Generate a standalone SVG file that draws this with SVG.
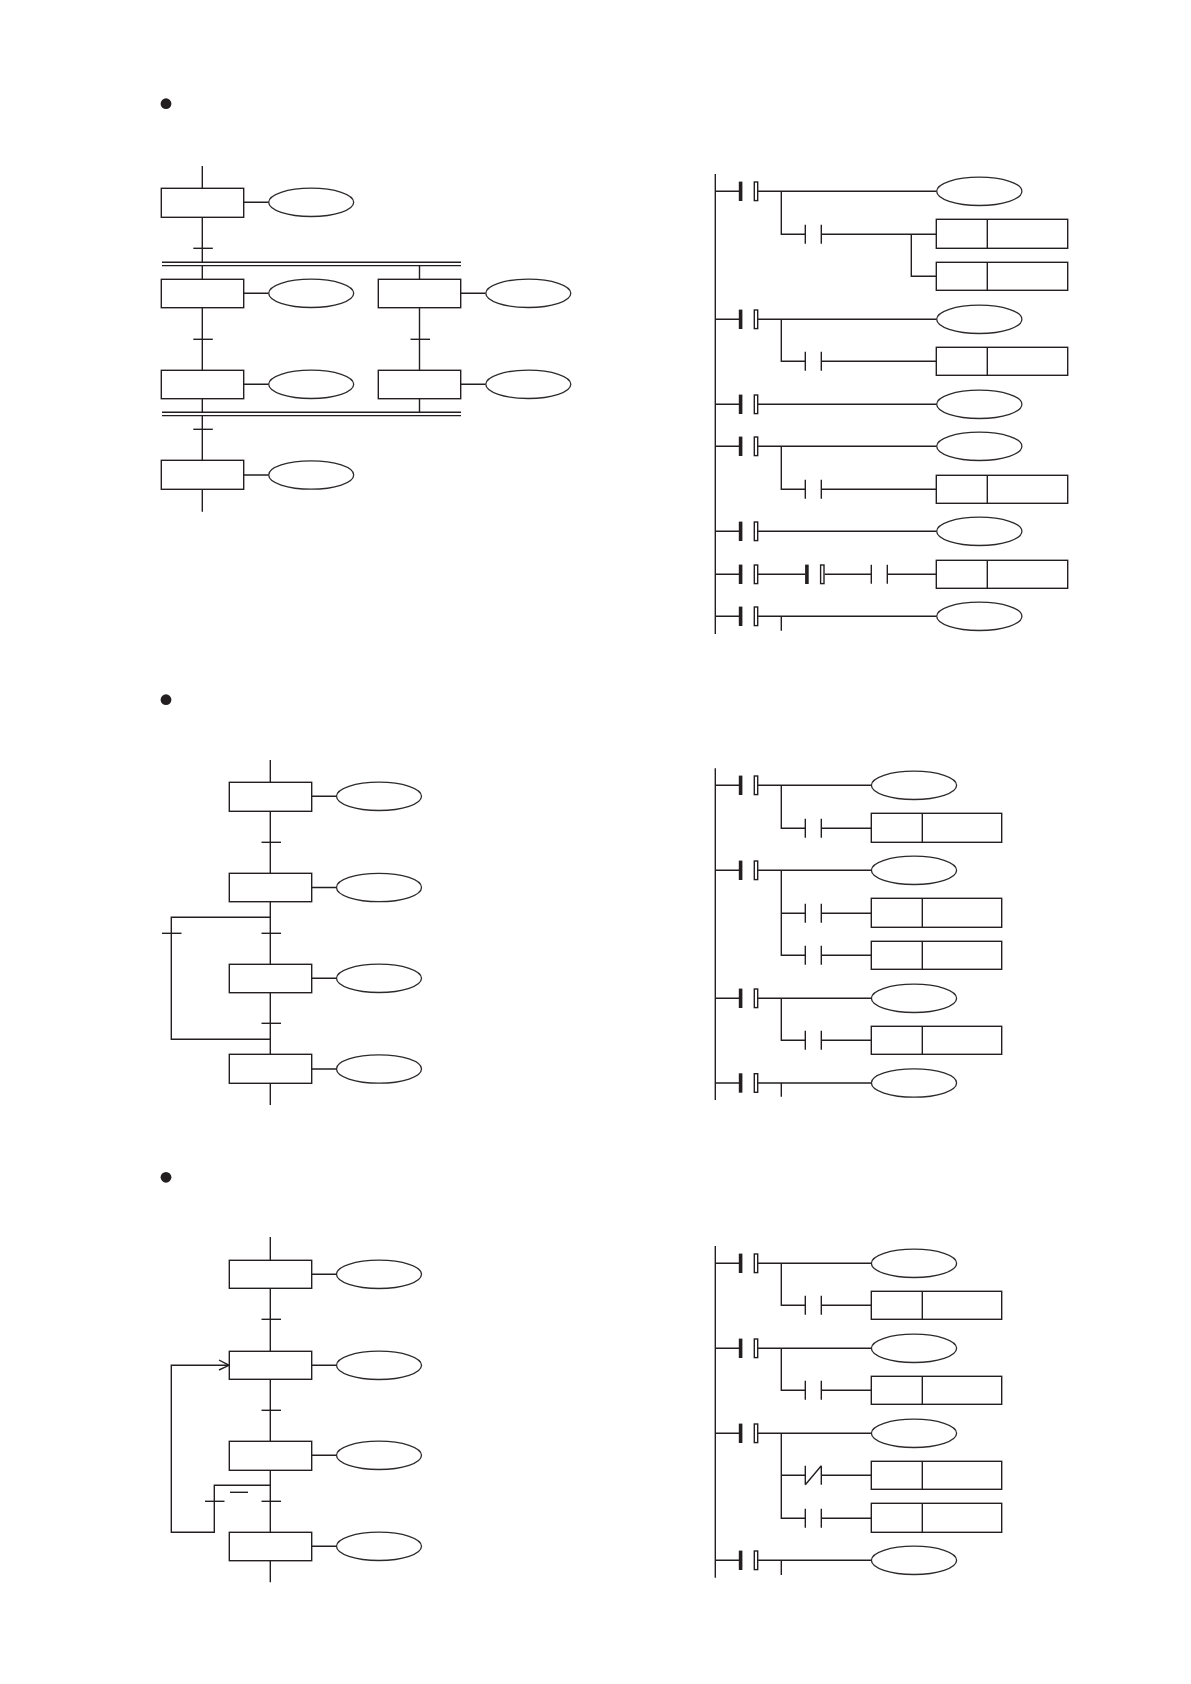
<svg xmlns="http://www.w3.org/2000/svg" xmlns:xlink="http://www.w3.org/1999/xlink" width="1191" height="1684" viewBox="0 0 1191 1684">
<style>
.w{fill:none;stroke:#231f20;stroke-width:1.4}
.b{fill:#fff;stroke:#231f20;stroke-width:1.4}
.e{fill:#fff;stroke:#2e2a2b;stroke-width:1.3}
.k{fill:#231f20;stroke:none}
</style>
<defs>
<g id="rail"><rect class="k" x="-0.2" y="-9.7" width="3.6" height="19.4"/><rect class="b" x="15.3" y="-9.3" width="3.4" height="18.6"/></g>
<path id="no" class="w" d="M0 -9.5V9.5M16 -9.5V9.5"/>
<path id="nc" class="w" d="M0 -9.5V9.5M16 -9.5V9.5M0 9.5L16 -9.5"/>
<path id="tick" class="w" d="M-9.5 0H10"/>
</defs>
<rect width="1191" height="1684" fill="#fff"/>

<g id="connectors">
<!-- section 1 SFC -->
<path class="w" d="M202.3 166V188.3M202.3 217.3V262.3M202.3 265.6V279.3M202.3 307.7V370.3M202.3 398.7V412.3M202.3 415.6V460.3M202.3 489.3V511.7"/>
<path class="w" d="M419.5 265.6V279.3M419.5 307.7V370.3M419.5 398.7V412.3"/>
<path class="w" d="M162 262.3H461M162 265.6H461M162 412.3H461M162 415.6H461"/>
<path class="w" d="M243.7 202.3H268.7M243.7 293.3H268.7M243.7 384.3H268.7M243.7 475H268.7M460.7 293.3H485.7M460.7 384.3H485.7"/>
<use href="#tick" x="202.8" y="248.3"/><use href="#tick" x="202.8" y="339.3"/><use href="#tick" x="202.8" y="429.3"/><use href="#tick" x="420" y="339.3"/>
<!-- section 1 ladder -->
<path class="w" d="M715.3 174V634"/>
<path class="w" d="M715.3 191.3H739M757.7 191.3H936.7M781.3 191.3V234.3H805.3M821.3 234.3H936.3M911.3 234.3V276.3H936.3"/>
<path class="w" d="M715.3 319.3H739M757.7 319.3H936.7M781.3 319.3V361.3H805.3M821.3 361.3H936.3"/>
<path class="w" d="M715.3 404.3H739M757.7 404.3H936.7"/>
<path class="w" d="M715.3 446.3H739M757.7 446.3H936.7M781.3 446.3V489.3H805.3M821.3 489.3H936.3"/>
<path class="w" d="M715.3 531.3H739M757.7 531.3H936.7"/>
<path class="w" d="M715.3 574.3H739M757.7 574.3H805.3M824.7 574.3H871.3M887.3 574.3H936.3"/>
<path class="w" d="M715.3 616.3H739M757.7 616.3H936.7M781.3 616.3V630.7"/>
<!-- section 2 SFC -->
<path class="w" d="M270.3 760V782.3M270.3 811.3V873.3M270.3 901.7V964.3M270.3 992.7V1054.3M270.3 1083.3V1105"/>
<path class="w" d="M270.3 917.3H171.3V1039.3H270.3"/>
<path class="w" d="M311.7 796.3H336.7M311.7 887.5H336.7M311.7 978.3H336.7M311.7 1069H336.7"/>
<use href="#tick" x="271" y="842.3"/><use href="#tick" x="271" y="933.3"/><use href="#tick" x="271" y="1023.3"/><use href="#tick" x="171.5" y="933.3"/>
<!-- section 2 ladder -->
<path class="w" d="M715.3 768.3V1100"/>
<path class="w" d="M715.3 785.3H739M757.7 785.3H871.3M781.3 785.3V828.3H805.3M821.3 828.3H871.3"/>
<path class="w" d="M715.3 870.3H739M757.7 870.3H871.3M781.3 870.3V955.3H805.3M781.3 913.3H805.3M821.3 913.3H871.3M821.3 955.3H871.3"/>
<path class="w" d="M715.3 998.3H739M757.7 998.3H871.3M781.3 998.3V1040.3H805.3M821.3 1040.3H871.3"/>
<path class="w" d="M715.3 1083H739M757.7 1083H871.3M781.3 1083V1096.7"/>
<!-- section 3 SFC -->
<path class="w" d="M270.3 1237V1260.3M270.3 1288.3V1351.3M270.3 1379.3V1441.3M270.3 1470.3V1532.3M270.3 1560.7V1582.3"/>
<path class="w" d="M270.3 1485.3H214.3V1532.3H171.3V1365.3H229"/>
<path class="w" d="M219 1360L229 1365.3L219 1370"/>
<path class="w" d="M311.7 1274.3H336.7M311.7 1365.3H336.7M311.7 1455.3H336.7M311.7 1546.3H336.7"/>
<path class="w" d="M230 1492.3H248"/>
<use href="#tick" x="271" y="1319.3"/><use href="#tick" x="271" y="1410.3"/><use href="#tick" x="271" y="1501.3"/><use href="#tick" x="214.5" y="1501.3"/>
<!-- section 3 ladder -->
<path class="w" d="M715.3 1246V1577.7"/>
<path class="w" d="M715.3 1263.3H739M757.7 1263.3H871.3M781.3 1263.3V1305.3H805.3M821.3 1305.3H871.3"/>
<path class="w" d="M715.3 1348.3H739M757.7 1348.3H871.3M781.3 1348.3V1390.3H805.3M821.3 1390.3H871.3"/>
<path class="w" d="M715.3 1433.3H739M757.7 1433.3H871.3M781.3 1433.3V1518.3H805.3M781.3 1475.3H805.3M821.3 1475.3H871.3M821.3 1518.3H871.3"/>
<path class="w" d="M715.3 1560.3H739M757.7 1560.3H871.3M781.3 1560.3V1575"/>
</g>

<g id="bullet-1"><circle class="k" cx="166" cy="103.7" r="5.4"/></g>
<g id="bullet-2"><circle class="k" cx="166" cy="699.7" r="5.4"/></g>
<g id="bullet-3"><circle class="k" cx="166" cy="1177.3" r="5.4"/></g>

<g id="sfc1-step1"><rect class="b" x="161.3" y="188.3" width="82.4" height="29"/></g>
<g id="sfc1-action1"><ellipse class="e" cx="311.2" cy="202.3" rx="42.5" ry="14.2"/></g>
<g id="sfc1-step2"><rect class="b" x="161.3" y="279.3" width="82.4" height="28.4"/></g>
<g id="sfc1-action2"><ellipse class="e" cx="311.2" cy="293.3" rx="42.5" ry="14.2"/></g>
<g id="sfc1-step3"><rect class="b" x="378.3" y="279.3" width="82.4" height="28.4"/></g>
<g id="sfc1-action3"><ellipse class="e" cx="528.3" cy="293.3" rx="42.5" ry="14.2"/></g>
<g id="sfc1-step4"><rect class="b" x="161.3" y="370.3" width="82.4" height="28.4"/></g>
<g id="sfc1-action4"><ellipse class="e" cx="311.2" cy="384.3" rx="42.5" ry="14.2"/></g>
<g id="sfc1-step5"><rect class="b" x="378.3" y="370.3" width="82.4" height="28.4"/></g>
<g id="sfc1-action5"><ellipse class="e" cx="528.3" cy="384.3" rx="42.5" ry="14.2"/></g>
<g id="sfc1-step6"><rect class="b" x="161.3" y="460.3" width="82.4" height="29"/></g>
<g id="sfc1-action6"><ellipse class="e" cx="311.2" cy="475" rx="42.5" ry="14.2"/></g>

<g id="lad1-rung1"><use href="#rail" x="739" y="191.3"/><use href="#no" x="805.3" y="234.3"/></g>
<g id="lad1-coil1"><ellipse class="e" cx="979.3" cy="191.3" rx="42.6" ry="14.2"/></g>
<g id="lad1-box1"><rect class="b" x="936.3" y="219.3" width="131.4" height="29"/><path class="w" d="M987.3 219.3V248.3"/></g>
<g id="lad1-box2"><rect class="b" x="936.3" y="262.3" width="131.4" height="28"/><path class="w" d="M987.3 262.3V290.3"/></g>
<g id="lad1-rung2"><use href="#rail" x="739" y="319.3"/><use href="#no" x="805.3" y="361.3"/></g>
<g id="lad1-coil2"><ellipse class="e" cx="979.3" cy="319.3" rx="42.6" ry="14.2"/></g>
<g id="lad1-box3"><rect class="b" x="936.3" y="347.3" width="131.4" height="28"/><path class="w" d="M987.3 347.3V375.3"/></g>
<g id="lad1-rung3"><use href="#rail" x="739" y="404.3"/></g>
<g id="lad1-coil3"><ellipse class="e" cx="979.3" cy="404.3" rx="42.6" ry="14.2"/></g>
<g id="lad1-rung4"><use href="#rail" x="739" y="446.3"/><use href="#no" x="805.3" y="489.3"/></g>
<g id="lad1-coil4"><ellipse class="e" cx="979.3" cy="446.3" rx="42.6" ry="14.2"/></g>
<g id="lad1-box4"><rect class="b" x="936.3" y="475.3" width="131.4" height="28"/><path class="w" d="M987.3 475.3V503.3"/></g>
<g id="lad1-rung5"><use href="#rail" x="739" y="531.3"/></g>
<g id="lad1-coil5"><ellipse class="e" cx="979.3" cy="531.3" rx="42.6" ry="14.2"/></g>
<g id="lad1-rung6"><use href="#rail" x="739" y="574.3"/><use href="#rail" x="805.3" y="574.3"/><use href="#no" x="871.3" y="574.3"/></g>
<g id="lad1-box5"><rect class="b" x="936.3" y="560.3" width="131.4" height="28"/><path class="w" d="M987.3 560.3V588.3"/></g>
<g id="lad1-rung7"><use href="#rail" x="739" y="616.3"/></g>
<g id="lad1-coil6"><ellipse class="e" cx="979.3" cy="616.3" rx="42.6" ry="14.2"/></g>

<g id="sfc2-step1"><rect class="b" x="229.3" y="782.3" width="82.4" height="29"/></g>
<g id="sfc2-action1"><ellipse class="e" cx="379" cy="796.3" rx="42.5" ry="14.2"/></g>
<g id="sfc2-step2"><rect class="b" x="229.3" y="873.3" width="82.4" height="28.4"/></g>
<g id="sfc2-action2"><ellipse class="e" cx="379" cy="887.5" rx="42.5" ry="14.2"/></g>
<g id="sfc2-step3"><rect class="b" x="229.3" y="964.3" width="82.4" height="28.4"/></g>
<g id="sfc2-action3"><ellipse class="e" cx="379" cy="978.3" rx="42.5" ry="14.2"/></g>
<g id="sfc2-step4"><rect class="b" x="229.3" y="1054.3" width="82.4" height="29"/></g>
<g id="sfc2-action4"><ellipse class="e" cx="379" cy="1069" rx="42.5" ry="14.2"/></g>

<g id="lad2-rung1"><use href="#rail" x="739" y="785.3"/><use href="#no" x="805.3" y="828.3"/></g>
<g id="lad2-coil1"><ellipse class="e" cx="914" cy="785.3" rx="42.6" ry="14.2"/></g>
<g id="lad2-box1"><rect class="b" x="871.3" y="813.3" width="130.4" height="29"/><path class="w" d="M922.3 813.3V842.3"/></g>
<g id="lad2-rung2"><use href="#rail" x="739" y="870.3"/><use href="#no" x="805.3" y="913.3"/><use href="#no" x="805.3" y="955.3"/></g>
<g id="lad2-coil2"><ellipse class="e" cx="914" cy="870.3" rx="42.6" ry="14.2"/></g>
<g id="lad2-box2"><rect class="b" x="871.3" y="898.3" width="130.4" height="29"/><path class="w" d="M922.3 898.3V927.3"/></g>
<g id="lad2-box3"><rect class="b" x="871.3" y="941.3" width="130.4" height="28"/><path class="w" d="M922.3 941.3V969.3"/></g>
<g id="lad2-rung3"><use href="#rail" x="739" y="998.3"/><use href="#no" x="805.3" y="1040.3"/></g>
<g id="lad2-coil3"><ellipse class="e" cx="914" cy="998.3" rx="42.6" ry="14.2"/></g>
<g id="lad2-box4"><rect class="b" x="871.3" y="1026.3" width="130.4" height="28"/><path class="w" d="M922.3 1026.3V1054.3"/></g>
<g id="lad2-rung4"><use href="#rail" x="739" y="1083"/></g>
<g id="lad2-coil4"><ellipse class="e" cx="914" cy="1083" rx="42.6" ry="14.2"/></g>

<g id="sfc3-step1"><rect class="b" x="229.3" y="1260.3" width="82.4" height="28"/></g>
<g id="sfc3-action1"><ellipse class="e" cx="379" cy="1274.3" rx="42.5" ry="14.2"/></g>
<g id="sfc3-step2"><rect class="b" x="229.3" y="1351.3" width="82.4" height="28"/></g>
<g id="sfc3-action2"><ellipse class="e" cx="379" cy="1365.3" rx="42.5" ry="14.2"/></g>
<g id="sfc3-step3"><rect class="b" x="229.3" y="1441.3" width="82.4" height="29"/></g>
<g id="sfc3-action3"><ellipse class="e" cx="379" cy="1455.3" rx="42.5" ry="14.2"/></g>
<g id="sfc3-step4"><rect class="b" x="229.3" y="1532.3" width="82.4" height="28.4"/></g>
<g id="sfc3-action4"><ellipse class="e" cx="379" cy="1546.3" rx="42.5" ry="14.2"/></g>

<g id="lad3-rung1"><use href="#rail" x="739" y="1263.3"/><use href="#no" x="805.3" y="1305.3"/></g>
<g id="lad3-coil1"><ellipse class="e" cx="914" cy="1263.3" rx="42.6" ry="14.2"/></g>
<g id="lad3-box1"><rect class="b" x="871.3" y="1291.3" width="130.4" height="28"/><path class="w" d="M922.3 1291.3V1319.3"/></g>
<g id="lad3-rung2"><use href="#rail" x="739" y="1348.3"/><use href="#no" x="805.3" y="1390.3"/></g>
<g id="lad3-coil2"><ellipse class="e" cx="914" cy="1348.3" rx="42.6" ry="14.2"/></g>
<g id="lad3-box2"><rect class="b" x="871.3" y="1376.3" width="130.4" height="28"/><path class="w" d="M922.3 1376.3V1404.3"/></g>
<g id="lad3-rung3"><use href="#rail" x="739" y="1433.3"/><use href="#nc" x="805.3" y="1475.3"/><use href="#no" x="805.3" y="1518.3"/></g>
<g id="lad3-coil3"><ellipse class="e" cx="914" cy="1433.3" rx="42.6" ry="14.2"/></g>
<g id="lad3-box3"><rect class="b" x="871.3" y="1461.3" width="130.4" height="28"/><path class="w" d="M922.3 1461.3V1489.3"/></g>
<g id="lad3-box4"><rect class="b" x="871.3" y="1503.3" width="130.4" height="29"/><path class="w" d="M922.3 1503.3V1532.3"/></g>
<g id="lad3-rung4"><use href="#rail" x="739" y="1560.3"/></g>
<g id="lad3-coil4"><ellipse class="e" cx="914" cy="1560.3" rx="42.6" ry="14.2"/></g>
</svg>
